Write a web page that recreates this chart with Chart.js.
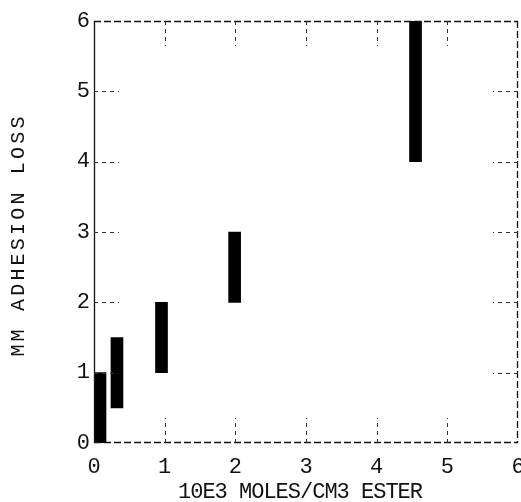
<!DOCTYPE html>
<html>
<head>
<meta charset="utf-8">
<script src="https://cdn.jsdelivr.net/npm/chart.js@4/dist/chart.umd.min.js"></script>
<style>
  html, body { margin: 0; padding: 0; background: #fff; }
  #wrap { width: 521px; height: 502px; }
</style>
</head>
<body>
<div id="wrap"><canvas id="c" width="521" height="502"></canvas></div>
<script>
// Ester concentration (10E3 moles/cm3) and the measured range of adhesion loss (mm)
const esterConc = [0.085, 0.325, 0.955, 1.99, 4.55];
const lossLow   = [0, 0.5, 1, 2, 4];
const lossHigh  = [1, 1.5, 2, 3, 6];
const tickValues = [0, 1, 2, 3, 4, 5, 6];

const xTitle = '10E3 MOLES/CM3 ESTER';
const yTitle = 'MM ADHESION LOSS';

const FONT = '"Liberation Mono", "DejaVu Sans Mono", monospace';
const INK = '#111';

// Frame, inward dashed tick marks and axis titles
const framePlugin = {
  id: 'frame',
  afterDraw(chart) {
    const { ctx, chartArea: a, scales: { x, y } } = chart;
    ctx.save();
    ctx.strokeStyle = INK;
    ctx.lineWidth = 1.3;

    // left edge solid
    ctx.beginPath();
    ctx.moveTo(a.left + 0.5, a.top);
    ctx.lineTo(a.left + 0.5, a.bottom);
    ctx.stroke();

    // other edges dashed
    ctx.setLineDash([7, 3]);
    ctx.beginPath();
    ctx.moveTo(a.left, a.top + 0.5);
    ctx.lineTo(a.right, a.top + 0.5);
    ctx.moveTo(a.right - 0.5, a.top);
    ctx.lineTo(a.right - 0.5, a.bottom);
    ctx.moveTo(a.left, a.bottom - 0.5);
    ctx.lineTo(a.right, a.bottom - 0.5);
    ctx.stroke();

    // inward tick marks
    const len = 25;
    ctx.lineWidth = 1;
    ctx.strokeStyle = '#333';
    ctx.setLineDash([4, 4]);
    tickValues.slice(1, -1).forEach(v => {
      const px = Math.round(x.getPixelForValue(v)) + 0.5;
      const py = Math.round(y.getPixelForValue(v)) + 0.5;
      ctx.beginPath();
      ctx.moveTo(px, a.bottom); ctx.lineTo(px, a.bottom - len);
      ctx.moveTo(px, a.top); ctx.lineTo(px, a.top + len);
      ctx.moveTo(a.left, py); ctx.lineTo(a.left + len, py);
      ctx.moveTo(a.right, py); ctx.lineTo(a.right - len, py);
      ctx.stroke();
    });
    ctx.setLineDash([]);

    // axis titles
    ctx.fillStyle = INK;
    ctx.textAlign = 'center';
    ctx.textBaseline = 'middle';
    ctx.font = '22px ' + FONT;
    ctx.letterSpacing = '-1px';
    ctx.fillText(xTitle, 300, 492);

    ctx.translate(19, 235);
    ctx.rotate(-Math.PI / 2);
    ctx.font = '20px ' + FONT;
    ctx.letterSpacing = '3.2px';
    ctx.fillText(yTitle, 0, 0);
    ctx.restore();
  }
};

new Chart(document.getElementById('c'), {
  type: 'bar',
  data: {
    datasets: [{
      data: esterConc.map((v, i) => ({ x: v, y: [lossLow[i], lossHigh[i]] })),
      backgroundColor: '#000',
      borderWidth: 0,
      barThickness: 12
    }]
  },
  options: {
    responsive: false,
    animation: false,
    events: [],
    layout: { padding: { top: 21, right: 3, left: 0, bottom: 0 } },
    plugins: { legend: { display: false }, tooltip: { enabled: false } },
    scales: {
      x: {
        type: 'linear',
        min: 0, max: 6,
        offset: false,
        grid: { display: false, drawTicks: false },
        border: { display: false },
        afterBuildTicks: s => { s.ticks = tickValues.map(v => ({ value: v })); },
        afterFit: s => { s.height = 59; s.paddingLeft = 0; s.paddingRight = 0; },
        ticks: {
          padding: 11,
          color: INK,
          font: { family: FONT, size: 22 },
          maxRotation: 0
        }
      },
      y: {
        type: 'linear',
        min: 0, max: 6,
        grid: { display: false, drawTicks: false },
        border: { display: false },
        afterBuildTicks: s => { s.ticks = tickValues.map(v => ({ value: v })); },
        afterFit: s => { s.width = 94; s.paddingTop = 0; s.paddingBottom = 0; },
        ticks: {
          padding: 4,
          color: INK,
          font: { family: FONT, size: 22 }
        }
      }
    }
  },
  plugins: [framePlugin]
});
</script>
</body>
</html>
